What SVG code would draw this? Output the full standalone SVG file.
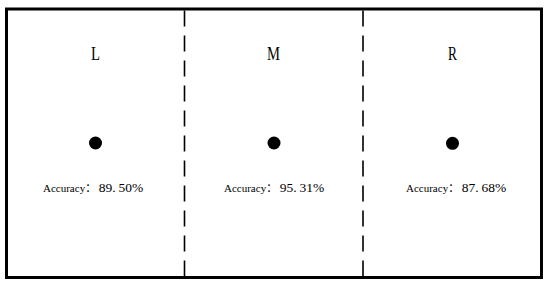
<svg xmlns="http://www.w3.org/2000/svg" width="550" height="286" viewBox="0 0 550 286">
<style>
.frame{fill:none;stroke:#000;stroke-width:3}
.div{stroke:#000;stroke-width:1.6;stroke-dasharray:16 9;fill:none}
.lbl{font-family:"Liberation Serif","Noto Sans CJK SC",serif;font-size:19px;fill:#000;text-anchor:middle}
.acc{font-family:"Liberation Serif","Noto Sans CJK SC",serif;fill:#000}
.s{font-size:11px}
.n{font-size:13.5px}
.dot{fill:#000}
</style>
<rect class="frame" x="6.5" y="9" width="535" height="268.5"/>
<g id="connectors">
<line class="div" x1="184.5" y1="10.5" x2="184.5" y2="276"/>
<line class="div" x1="363" y1="10.5" x2="363" y2="276"/>
</g>
<g id="L">
<text class="lbl" x="95.5" y="60" textLength="9" lengthAdjust="spacingAndGlyphs">L</text>
<circle class="dot" cx="95.5" cy="143" r="6.5"/>
<text class="acc" x="43" y="192"><tspan class="s">Accuracy：</tspan><tspan class="n" dx="2.5">89.</tspan><tspan class="n" dx="3">50%</tspan></text>
</g>
<g id="M">
<text class="lbl" x="273.5" y="59.5" textLength="13" lengthAdjust="spacingAndGlyphs">M</text>
<circle class="dot" cx="274" cy="143" r="6.5"/>
<text class="acc" x="224" y="192"><tspan class="s">Accuracy：</tspan><tspan class="n" dx="2.5">95.</tspan><tspan class="n" dx="3">31%</tspan></text>
</g>
<g id="R">
<text class="lbl" x="452.5" y="59.5" textLength="9" lengthAdjust="spacingAndGlyphs">R</text>
<circle class="dot" cx="452.5" cy="143.3" r="6.5"/>
<text class="acc" x="406" y="192"><tspan class="s">Accuracy：</tspan><tspan class="n" dx="2.5">87.</tspan><tspan class="n" dx="3">68%</tspan></text>
</g>
</svg>
